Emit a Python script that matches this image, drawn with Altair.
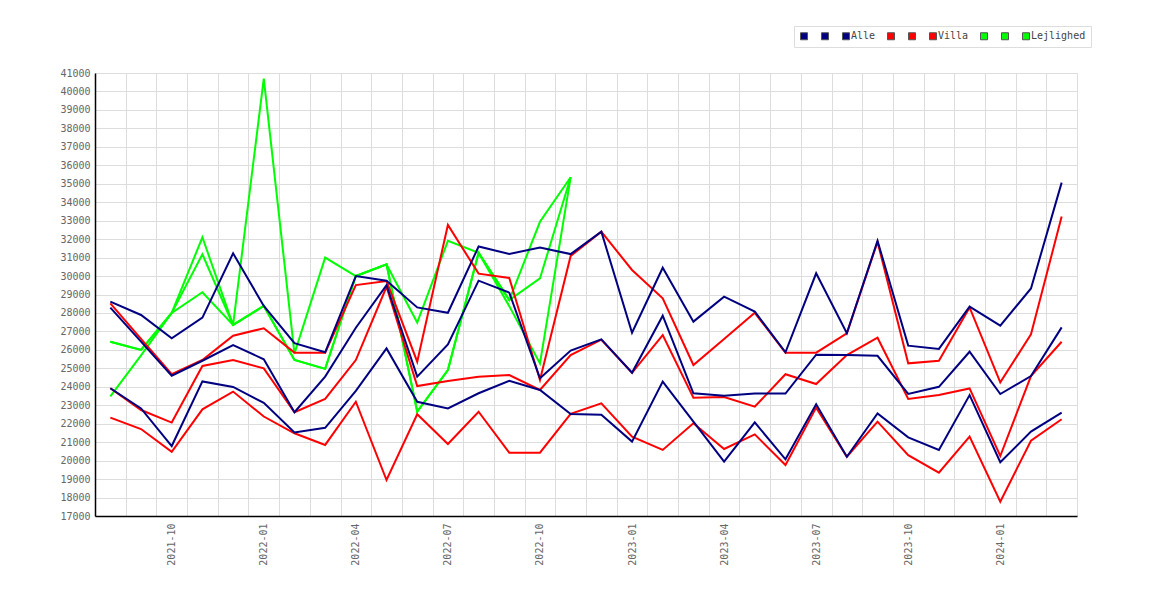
import json
import altair as alt
import pandas as pd

months = ["2021-08", "2021-09", "2021-10", "2021-11", "2021-12",
          "2022-01", "2022-02", "2022-03", "2022-04", "2022-05", "2022-06",
          "2022-07", "2022-08", "2022-09", "2022-10", "2022-11", "2022-12",
          "2023-01", "2023-02", "2023-03", "2023-04", "2023-05", "2023-06",
          "2023-07", "2023-08", "2023-09", "2023-10", "2023-11", "2023-12",
          "2024-01", "2024-02", "2024-03"]

alle_hi = [28610, 27890, 26630, 27750, 31230, 28380, 26360, 25870, 30000, 29750, 28300, 28010,
           31600, 31190, 31540, 31190, 32400, 26930, 30450, 27530, 28880, 28070, 25870, 30150,
           26900, 31910, 26230, 26050, 28340, 27310, 29330, 35060]
alle_mid = [28290, 26450, 24600, 25410, 26260, 25490, 22620, 24550, 27200, 29510, 24550, 26300,
            29750, 29100, 24460, 25960, 26570, 24760, 27850, 23650, 23520, 23630, 23630, 25740,
            25720, 25680, 23610, 24000, 25900, 23610, 24580, 27220]
alle_lo = [23920, 22830, 20790, 24290, 23990, 23130, 21530, 21780, 23780, 26080, 23190, 22830,
           23650, 24330, 23830, 22530, 22490, 21030, 24280, 22110, 19940, 22070, 20070, 23050,
           20210, 22560, 21260, 20580, 23550, 19910, 21570, 22600]

villa_hi = [28520, 26600, 24690, 25450, 26770, 27170, 25850, 25850, 29510, 29730, 25360, 32770,
            30130, 29900, 24370, 31090, 32400, 30330, 28790, 25180, 26590, 28010, 25850, 25850,
            26900, 31850, 25270, 25410, 28300, 24240, 26840, 33220]
villa_mid = [23920, 22740, 22060, 25130, 25450, 25000, 22620, 23340, 25450, 29420, 24040, 24310,
             24550, 24640, 23830, 25720, 26550, 24760, 26800, 23410, 23450, 22920, 24680, 24150,
             25720, 26660, 23340, 23550, 23910, 20250, 24580, 26440]
villa_lo = [22330, 21710, 20480, 22780, 23740, 22390, 21480, 20850, 23190, 18950, 22510, 20900,
            22650, 20430, 20430, 22530, 23100, 21300, 20580, 22020, 20630, 21420, 19760, 22870,
            20210, 22110, 20300, 19350, 21300, 17780, 21080, 22240]

lej_hi = [26440, 26000, 28000, 32100, 27350, 40700, 25800, 31000, 30000, 30630, 27480, 31910,
          31260, 28700, 32940, 35350]
lej_mid = [26440, 26000, 28000, 31180, 27350, 28380, 25450, 24970, 30000, 30630, 22650, 24910,
           31260, 28700, 29870, 35350]
lej_lo = [23480, 25700, 28000, 29120, 27350, 28380, 25450, 24970, 30000, 30630, 22650, 24910,
          31260, 28370, 25270, 35350]

NAVY, RED, GREEN = "#000080", "#ff0000", "#00ff00"

groups = [
    ("Alle", NAVY, [alle_lo, alle_mid, alle_hi]),
    ("Villa", RED, [villa_lo, villa_mid, villa_hi]),
    ("Lejlighed", GREEN, [lej_lo, lej_mid, lej_hi]),
]

domain, colors = [], []
for name, col, _ in groups:
    for k in range(3):
        domain.append(name + str(k + 1) if k < 2 else name)
        colors.append(col)

rows = []
for name, col, arrs in reversed(groups):  # draw green first, navy last
    for k, arr in enumerate(arrs):
        sname = name + str(k + 1) if k < 2 else name
        for i, v in enumerate(arr):
            rows.append({"i": i, "s": sname, "v": v})
df = pd.DataFrame(rows)

n = len(months)
FONT = "DejaVu Sans Mono"
xs = alt.Scale(domain=[-0.5, n - 0.5], nice=False, zero=False)
ys = alt.Scale(domain=[17000, 41000], nice=False, zero=False)
cs = alt.Scale(domain=domain, range=colors)

yaxis = alt.Axis(values=list(range(17000, 41001, 1000)), format="d", grid=True,
                 gridColor="#dddddd", gridWidth=1, ticks=False, labelPadding=5,
                 domainColor="#000000", domainWidth=1.5, labelColor="#666666",
                 labelFont=FONT, labelFontSize=10, title=None)

grid_axis = alt.Axis(values=[k - 0.5 for k in range(n + 1)], grid=True, gridColor="#dddddd",
                     gridWidth=1, labels=False, ticks=False, domain=False, title=None,
                     orient="bottom")

label_axis = alt.Axis(values=list(range(2, n, 3)), labelExpr=json.dumps(months) + "[datum.value]",
                      grid=False, ticks=False, domain=True, domainColor="#000000", domainWidth=1.5,
                      labelAngle=270, labelPadding=7, labelFont=FONT, labelFontSize=10,
                      labelColor="#666666", title=None, orient="bottom")

base = alt.Chart(df)

lines = base.mark_line(strokeWidth=2).encode(
    x=alt.X("i:Q", scale=xs, axis=grid_axis),
    y=alt.Y("v:Q", scale=ys, axis=yaxis),
    color=alt.Color("s:N", scale=cs, legend=None),
    detail="s:N",
)

keys = base.transform_filter("datum.v < 0").mark_square(filled=True, size=49, opacity=1).encode(
    x=alt.X("i:Q", scale=xs, axis=label_axis),
    y=alt.Y("v:Q", scale=ys, axis=yaxis),
    color=alt.Color("s:N", scale=cs, legend=alt.Legend(
        title=None, orient="none", legendX=699, legendY=-47, direction="horizontal",
        columns=9, symbolType="square", symbolSize=49, symbolStrokeColor="#555555",
        symbolStrokeWidth=1, symbolOpacity=1,
        labelExpr="indexof(['Alle','Villa','Lejlighed'], datum.label) >= 0 ? datum.label : ''",
        labelFont=FONT, labelFontSize=10, labelColor="#444444", labelOffset=0,
        columnPadding=9, padding=5, strokeColor="#dddddd", fillColor="#ffffff")),
)

chart = alt.layer(lines, keys).resolve_axis(x="independent").resolve_scale(
    color="independent").properties(
    width=982, height=443,
    padding={"left": 51, "top": 17, "right": 10, "bottom": 5},
).configure_view(stroke=None)

chart.save("out.html", embed_options={"renderer": "svg", "actions": False})
